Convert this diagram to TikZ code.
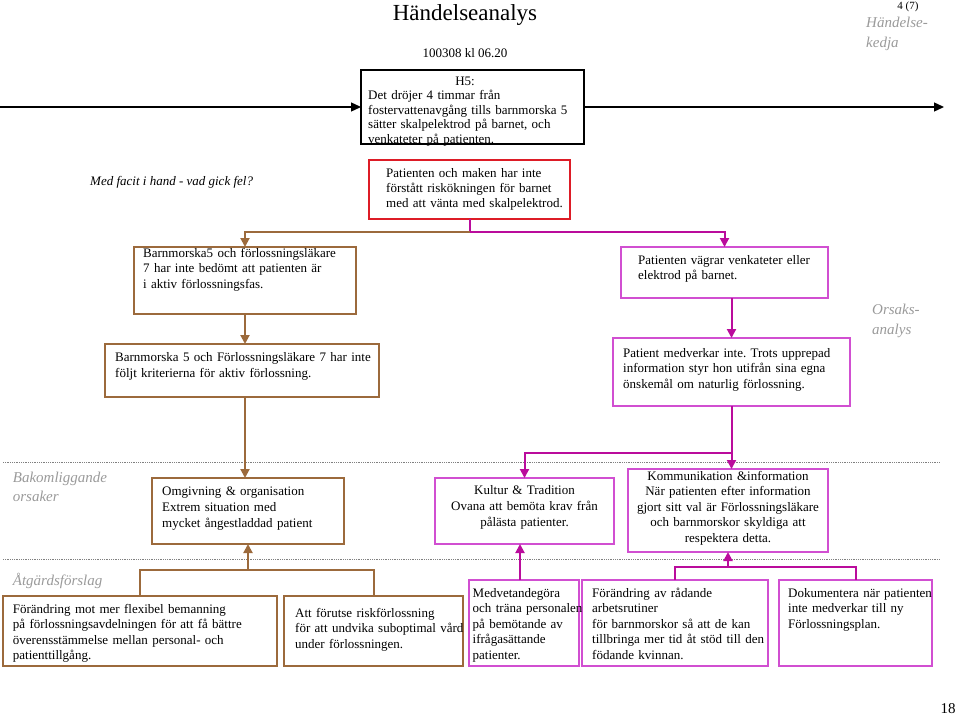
\documentclass[tikz,border=0pt]{standalone}
\usepackage{fontspec}
\setmainfont{Liberation Serif}
\usetikzlibrary{arrows.meta}
\definecolor{brn}{HTML}{9C6A3C}
\definecolor{magl}{HTML}{BA0C9C}
\definecolor{magb}{HTML}{D14FD1}
\definecolor{redb}{HTML}{DD1C26}
\definecolor{lbl}{HTML}{9A9A9A}
\frenchspacing
\begin{document}
\begin{tikzpicture}[x=1pt,y=-1pt,
  box/.style={draw, inner sep=0pt, outer sep=0pt, anchor=north west},
  blackbox/.style={box, draw=black, line width=1.2pt},
  redbox/.style={box, draw=redb, line width=2.6pt},
  brownbox/.style={box, draw=brn, line width=1.4pt},
  magbox/.style={box, draw=magb, line width=1.4pt},
  txt/.style={font=\fontsize{13}{#1}\selectfont, inner sep=0pt, text width=320pt, align=left, anchor=base west},
  txt/.default=15.5,
  ctxt/.style={font=\fontsize{13}{15.5}\selectfont, inner sep=0pt, align=center, anchor=base},
  side/.style={font=\fontsize{15}{#1}\selectfont\itshape, text=lbl, inner sep=0pt, anchor=base west, align=left, text width=110pt},
  side/.default=19.5,
  bline/.style={draw=brn, line width=2pt},
  mline/.style={draw=magl, line width=2pt},
  tip/.style={-{Triangle[length=9pt,width=9pt]}},
  sep/.style={draw=gray, line width=0.8pt, densely dotted}
]
\useasboundingbox (0,0) rectangle (960,717);

% header texts
\node[font=\fontsize{23}{26}\selectfont, inner sep=0pt, anchor=base] (title) at (465,21) {Händelseanalys};
\node[font=\fontsize{13}{15}\selectfont, inner sep=0pt, anchor=base] (date) at (465,58) {100308 kl 06.20};
\node[font=\fontsize{11}{13}\selectfont, inner sep=0pt, anchor=base] (page) at (908,10) {4 (7)};
\node[side=20] (lkedja) at (866,28) {Händelse-\\kedja};
\node[side=20] (lorsak) at (872,314) {Orsaks-\\analys};
\node[side=19] (lbakom) at (12.7,482) {Bakomliggande\\orsaker};
\node[side] (latgard) at (12.7,585) {Åtgärdsförslag};
\node[font=\fontsize{13}{15}\selectfont\itshape, inner sep=0pt, anchor=base west] (facit) at (90,185) {Med facit i hand - vad gick fel?};
\node[font=\fontsize{15}{17}\selectfont, inner sep=0pt, anchor=base] (pnum) at (948,713) {18};

% separators
\coordinate (s1a) at (3,462.5);
\coordinate (s1b) at (940,462.5);
\coordinate (s2a) at (3,559);
\coordinate (s2b) at (940,559);
\draw[sep] (s1a) -- (s1b);
\draw[sep] (s2a) -- (s2b);

% boxes
\node[blackbox, minimum width=223pt, minimum height=74pt] (h5) at (361,70) {};
\node[redbox, minimum width=201pt, minimum height=59pt] (red) at (369,160) {};
\node[brownbox, minimum width=222pt, minimum height=67pt] (b1) at (134,247) {};
\node[brownbox, minimum width=274pt, minimum height=53pt] (b2) at (105,344) {};
\node[magbox, minimum width=207pt, minimum height=51pt] (p1) at (621,247) {};
\node[magbox, minimum width=237pt, minimum height=68pt] (p2) at (613,338) {};
\node[brownbox, minimum width=192pt, minimum height=66pt] (om) at (152,478) {};
\node[magbox, minimum width=179pt, minimum height=66pt] (kul) at (435,478) {};
\node[magbox, minimum width=200pt, minimum height=83pt] (kom) at (628,469) {};
\node[brownbox, minimum width=274pt, minimum height=70pt] (a1) at (3,596) {};
\node[brownbox, minimum width=179pt, minimum height=70pt] (a2) at (284,596) {};
\node[magbox, minimum width=110pt, minimum height=86pt] (m1) at (469,580) {};
\node[magbox, minimum width=186pt, minimum height=86pt] (m2) at (582,580) {};
\node[magbox, minimum width=153pt, minimum height=86pt] (m3) at (779,580) {};

% box texts
\node[ctxt] (h5h) at (465,85) {H5:};
\node[txt=14.5] (h5t) at (368,99.5) {Det dröjer 4 timmar från\\fostervattenavgång tills barnmorska 5\\sätter skalpelektrod på barnet, och\\venkateter på patienten.};
\node[txt=15] (redt) at (386,177) {Patienten och maken har inte\\förstått riskökningen för barnet\\med att vänta med skalpelektrod.};
\node[txt=15.5] (b1t) at (143,257) {Barnmorska5 och förlossningsläkare\\7 har inte bedömt att patienten är\\i aktiv förlossningsfas.};
\node[txt] (b2t) at (115,361.5) {Barnmorska 5 och Förlossningsläkare 7 har inte\\följt kriterierna för aktiv förlossning.};
\node[txt=15] (p1t) at (638,264) {Patienten vägrar venkateter eller\\elektrod på barnet.};
\node[txt] (p2t) at (623,357) {Patient medverkar inte. Trots upprepad\\information styr hon utifrån sina egna\\önskemål om naturlig förlossning.};
\node[txt=16] (omt) at (162,495) {Omgivning \& organisation\\Extrem situation med\\mycket ångestladdad patient};
\node[ctxt, text width=179pt, font=\fontsize{13}{16}\selectfont] (kult) at (524.5,494) {Kultur \& Tradition\\Ovana att bemöta krav från\\pålästa patienter.};
\node[ctxt, text width=200pt] (komt) at (728,480) {Kommunikation \&information\\När patienten efter information\\gjort sitt val är Förlossningsläkare\\och barnmorskor skyldiga att\\respektera detta.};
\node[txt] (a1t) at (12.7,613) {Förändring mot mer flexibel bemanning\\på förlossningsavdelningen för att få bättre\\överensstämmelse mellan personal- och\\patienttillgång.};
\node[txt] (a2t) at (295,617) {Att förutse riskförlossning\\för att undvika suboptimal vård\\under förlossningen.};
\node[txt] (m1t) at (472.5,597) {Medvetandegöra\\och träna personalen\\på bemötande av\\ifrågasättande\\patienter.};
\node[txt] (m2t) at (592,597) {Förändring av rådande\\arbetsrutiner\\för barnmorskor så att de kan\\tillbringa mer tid åt stöd till den\\födande kvinnan.};
\node[txt] (m3t) at (788,597) {Dokumentera när patienten\\inte medverkar till ny\\Förlossningsplan.};

% top event chain arrow
\coordinate (tl) at (0,107);
\coordinate (tr) at (944,107);
\draw[line width=1.3pt, -{Triangle[length=10pt,width=9pt]}] (tl) -- (h5.west);
\draw[line width=1.3pt, -{Triangle[length=10pt,width=9pt]}] (h5.east) -- (tr);

% connectors upper part
\coordinate (jr) at (469.5,232);
\draw[mline] (red.south) -- (red.south |- jr);
\draw[bline,tip] (red.south |- jr) -| (b1.north);
\draw[mline,tip] (red.south |- jr) -| (p1.north);
\draw[bline,tip] (b1.south) -- (b1.south |- b2.north);
\draw[mline,tip] (p1.south -| p2.north) -- (p2.north);
\draw[bline,tip] (b2.south -| b1.south) -- (om.north -| b1.south);
\coordinate (jm) at (0,453);
\draw[mline,tip] (p2.south) -- (p2.south |- kom.north);
\draw[mline,tip] (p2.south |- jm) -| (kul.north);

% connectors lower part
\coordinate (yb) at (0,570);
\draw[bline] (a1.north) |- (a2.north |- yb) -- (a2.north);
\draw[bline,tip] (om.south |- yb) -- (om.south);
\coordinate (ym) at (0,566.5);
\draw[mline] (m2.north) |- (m3.north |- ym) -- (m3.north);
\draw[mline,tip] (kom.south |- ym) -- (kom.south);
\coordinate (xk) at (520,0);
\draw[mline,tip] (m1.north -| xk) -- (kul.south -| xk);
\end{tikzpicture}
\end{document}
